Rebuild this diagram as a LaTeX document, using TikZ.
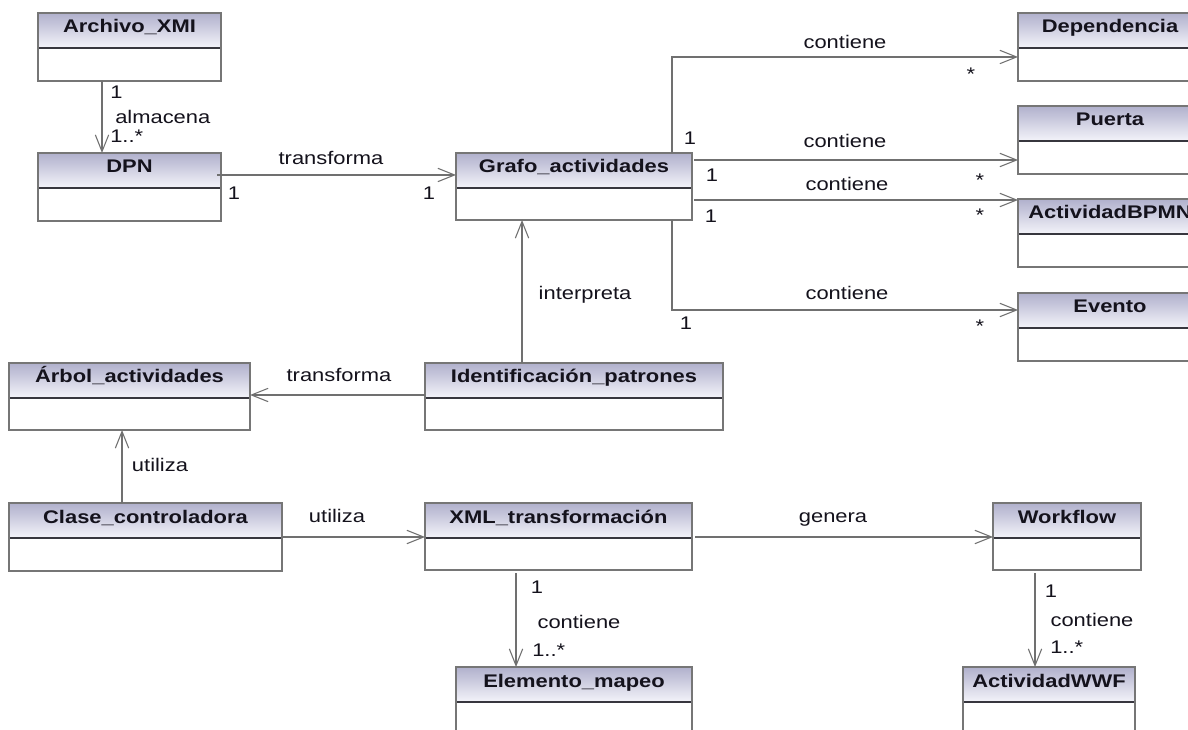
\documentclass[tikz,border=0pt]{standalone}
\usepackage{fontspec}
\setmainfont{Liberation Sans}[FakeStretch=1.2]
\usetikzlibrary{arrows.meta,calc,fit}

\definecolor{hdrtop}{RGB}{176,176,204}
\definecolor{hdrbot}{RGB}{244,244,250}
\definecolor{framecol}{RGB}{118,118,118}
\definecolor{linecol}{RGB}{112,112,112}
\definecolor{inkcol}{RGB}{20,18,28}

\tikzset{
  x=0.75pt, y=-0.75pt,
  classframe/.style={draw=framecol, line width=1.4pt, inner sep=0pt, outer sep=0pt},
  divider/.style={draw=inkcol!85, line width=1.3pt},
  classtitle/.style={font=\fontsize{13.7}{16}\selectfont\bfseries, text=inkcol, inner sep=0pt, anchor=base},
  lbl/.style={font=\fontsize{13.7}{16}\selectfont, text=inkcol, inner sep=0pt},
  assoc/.style={draw=linecol, line width=1pt, -{Straight Barb[length=12.5pt,width=10pt,line width=0.8pt]}},
}

% name, title, left, top, right, bottom (pixels, y downwards)
\newcommand\umlclass[6]{%
  \fill[white] (#3,#4) rectangle (#5,#6);
  \shade[top color=hdrtop, bottom color=hdrbot] (#3,#4) rectangle (#5,#4+35);
  \draw[divider] (#3,#4+35) -- (#5,#4+35);
  \node[classframe, fit={(#3,#4) (#5,#6)}] (#1) {};
  \node[classtitle] (#1-title) at ({(#3+#5)/2},#4+20) {#2};
}

\begin{document}
\begin{tikzpicture}
\useasboundingbox (0,0) rectangle (1188,730);
\clip (0,0) rectangle (1188,730);
\fill[white] (0,0) rectangle (1188,730);

% classes
\umlclass{archivo}{Archivo\_XMI}{38}{13}{221}{81}
\umlclass{dpn}{DPN}{38}{153}{221}{221}
\umlclass{grafo}{Grafo\_actividades}{456}{153}{692}{220}
\umlclass{dep}{Dependencia}{1018}{13}{1202}{81}
\umlclass{puerta}{Puerta}{1018}{106}{1202}{174}
\umlclass{bpmn}{ActividadBPMN}{1018}{199}{1202}{267}
\umlclass{evento}{Evento}{1018}{293}{1202}{361}
\umlclass{arbol}{Árbol\_actividades}{9}{363}{250}{430}
\umlclass{ident}{Identificación\_patrones}{425}{363}{723}{430}
\umlclass{clase}{Clase\_controladora}{9}{503}{282}{571}
\umlclass{xml}{XML\_transformación}{425}{503}{692}{570}
\umlclass{wf}{Workflow}{993}{503}{1141}{570}
\umlclass{elem}{Elemento\_mapeo}{456}{667}{692}{740}
\umlclass{wwf}{ActividadWWF}{963}{667}{1135}{740}

% associations
\draw[assoc] ($(archivo.south west)+(64,0)$) -- ($(dpn.north west)+(64,0)$);
\draw[assoc] ($(dpn.north east)+(-4,22)$) -- ($(grafo.north west)+(0,22)$);
\draw[assoc] ($(grafo.north west)+(216,0)$) |- ($(dep.north west)+(0,44)$);
\draw[assoc] ($(grafo.north east)+(2,7)$) -- ($(puerta.north west)+(0,54)$);
\draw[assoc] ($(grafo.north east)+(2,47)$) -- ($(bpmn.north west)+(0,1)$);
\draw[assoc] ($(grafo.south west)+(216,0)$) |- ($(evento.north west)+(0,17)$);
\draw[assoc] ($(ident.north west)+(97,0)$) -- ($(grafo.south west)+(66,0)$);
\draw[assoc] ($(ident.north west)+(0,32)$) -- ($(arbol.north east)+(0,32)$);
\draw[assoc] ($(clase.north west)+(113,0)$) -- ($(arbol.south west)+(113,0)$);
\draw[assoc] ($(clase.north east)+(0,34)$) -- ($(xml.north west)+(0,34)$);
\draw[assoc] ($(xml.north east)+(3,34)$) -- ($(wf.north west)+(0,34)$);
\draw[assoc] ($(xml.south west)+(91,3)$) -- ($(elem.north west)+(60,0)$);
\draw[assoc] ($(wf.south west)+(42,3)$) -- ($(wwf.north west)+(72,0)$);

% association labels and multiplicities
\node[lbl, anchor=base west] (m-a1) at (110,99) {1};
\node[lbl, anchor=base west] (n-alm) at (115,124) {almacena};
\node[lbl, anchor=base west] (m-a2) at (110,143) {1..*};

\node[lbl, anchor=base] (n-tr1) at (331,165) {transforma};
\node[lbl, anchor=base] (m-t1) at (234,200) {1};
\node[lbl, anchor=base] (m-t2) at (429,200) {1};

\node[lbl, anchor=base] (n-c1) at (845,49) {contiene};
\node[lbl, anchor=base] (m-c1b) at (971,81) {*};
\node[lbl, anchor=base] (m-c1a) at (690,145) {1};
\node[lbl, anchor=base] (n-c2) at (845,148) {contiene};
\node[lbl, anchor=base] (m-c2a) at (712,182) {1};
\node[lbl, anchor=base] (m-c2b) at (980,187) {*};
\node[lbl, anchor=base] (n-c3) at (847,191) {contiene};
\node[lbl, anchor=base] (m-c3a) at (711,223) {1};
\node[lbl, anchor=base] (m-c3b) at (980,222) {*};
\node[lbl, anchor=base] (n-c4) at (847,300) {contiene};
\node[lbl, anchor=base] (m-c4a) at (686,330) {1};
\node[lbl, anchor=base] (m-c4b) at (980,333) {*};

\node[lbl, anchor=base] (n-int) at (585,300) {interpreta};
\node[lbl, anchor=base] (n-tr2) at (339,382) {transforma};
\node[lbl, anchor=base] (n-ut1) at (160,471) {utiliza};
\node[lbl, anchor=base] (n-ut2) at (337,522) {utiliza};
\node[lbl, anchor=base] (n-gen) at (833,522) {genera};

\node[lbl, anchor=base] (m-e1) at (537,593) {1};
\node[lbl, anchor=base] (n-e) at (579,628) {contiene};
\node[lbl, anchor=base west] (m-e2) at (532,656) {1..*};

\node[lbl, anchor=base] (m-w1) at (1051,597) {1};
\node[lbl, anchor=base] (n-w) at (1092,626) {contiene};
\node[lbl, anchor=base west] (m-w2) at (1050,653) {1..*};
\end{tikzpicture}
\end{document}
